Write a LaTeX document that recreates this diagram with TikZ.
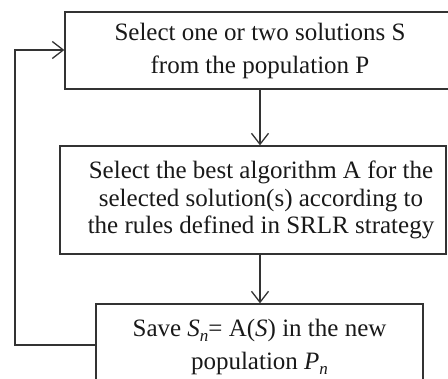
\documentclass[tikz,border=0pt]{standalone}
\usepackage{fontspec}
\setmainfont{Liberation Serif}
\usetikzlibrary{arrows.meta}
\tikzset{
  boxnode/.style={draw=black!80, line width=1.3pt, align=center, inner sep=0pt,
    font=\fontsize{25}{33}\selectfont, text=black!90},
  conn/.style={draw=black!80, line width=1.3pt},
  tip/.style={-{Straight Barb[length=11pt,width=17pt,line width=1.3pt]}}
}
\newcommand{\subn}{\raisebox{-0.22em}{\fontsize{17}{17}\selectfont\textit{n}}}
\begin{document}
\begin{tikzpicture}[x=1pt,y=-1pt]
\useasboundingbox (0,0) rectangle (448,379);
\clip (0,0) rectangle (448,379);
\node[boxnode, minimum width=390pt, minimum height=77pt] (b1) at (260,50.5)
  {Select one or two solutions S\\from the population P};
\node[boxnode, minimum width=386pt, minimum height=108pt,
  font=\fontsize{25}{27.5}\selectfont] (b2) at (253,200)
  {\hspace*{16pt}Select the best algorithm A for the\\\hspace*{16pt}selected solution(s) according to\\\hspace*{16pt}the rules defined in SRLR strategy};
\node[boxnode, minimum width=327pt, minimum height=86pt] (b3) at (259.5,347)
  {Save \textit{S}\subn= A(\textit{S}) in the new\\population \textit{P}\subn};
\coordinate (c1) at (15,345);
\coordinate (c2) at (15,50);
\draw[conn, tip] (b1.south -| 260,0) -- (b2.north -| 260,0);
\draw[conn, tip] (b2.south -| 260,0) -- (b3.north -| 260,0);
\draw[conn, tip] (b3.west |- c1) -- (c1) -- (c2) -- (b1.west |- c2);
\end{tikzpicture}
\end{document}
